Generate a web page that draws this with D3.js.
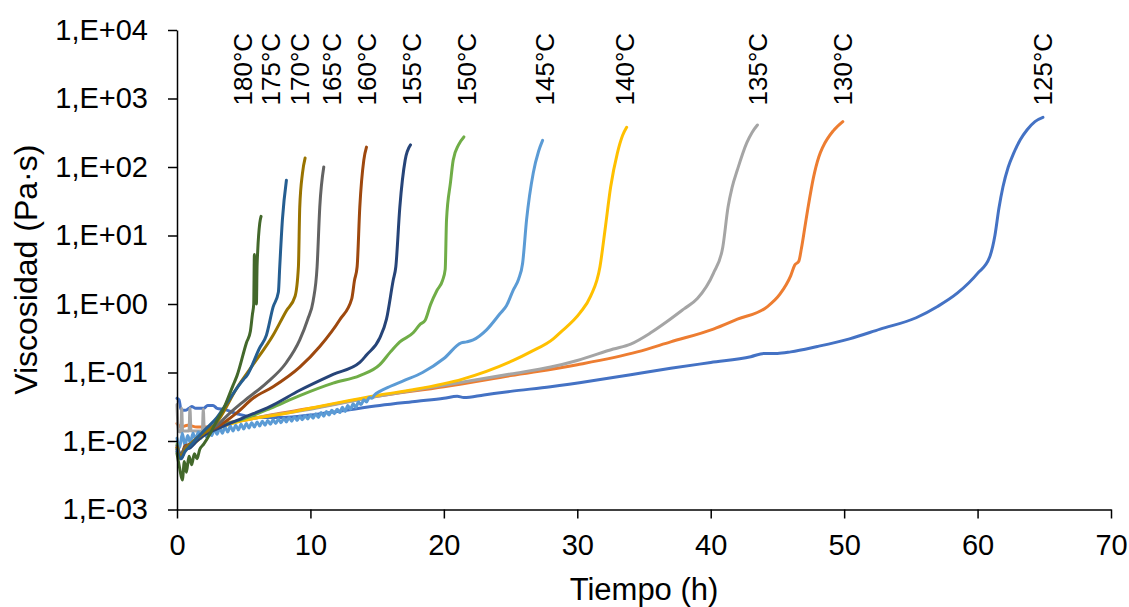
<!DOCTYPE html>
<html>
<head>
<meta charset="utf-8">
<script src="https://cdn.jsdelivr.net/npm/d3@7"></script>
<style>
  html, body { margin: 0; padding: 0; background: #fff; }
  svg { display: block; }
  text { font-family: "Liberation Sans", Arial, sans-serif; fill: #000; }
</style>
</head>
<body>
<svg id="chart" width="1129" height="607"></svg>
<script>
// Curing temperatures (°C) and where each label sits along the time axis (h)
const temperatures = [125, 130, 135, 140, 145, 150, 155, 160, 165, 170, 175, 180];
const labelHours   = [64.9, 49.9, 43.5, 33.6, 27.6, 21.7, 17.6, 14.2, 11.6, 9.2, 7.0, 4.95];

// Axis ticks
const xTicks = [0, 10, 20, 30, 40, 50, 60, 70];
const yTicks = [1e-3, 1e-2, 1e-1, 1e0, 1e1, 1e2, 1e3, 1e4];
const yTickLabels = ["1,E-03", "1,E-02", "1,E-01", "1,E+00", "1,E+01", "1,E+02", "1,E+03", "1,E+04"];

// Viscosity (Pa·s) versus time (h), one array per temperature
const visc125 = [[0,0.042],[0.15,0.04],[0.3,0.029],[0.6,0.028],[0.9,0.03],[1.1,0.032],[1.4,0.03],[2.0,0.03],[2.3,0.033],[2.7,0.033],[3.0,0.03],[3.5,0.029],[4.5,0.025],[6,0.022],[8,0.022],[10,0.024],[12,0.027],[15.2,0.033],[18,0.038],[20,0.042],[21,0.045],[21.5,0.043],[23,0.047],[25,0.053],[28,0.062],[31,0.075],[34,0.093],[37,0.115],[40,0.14],[43,0.17],[44,0.19],[45,0.19],[46,0.2],[48,0.24],[50.4,0.31],[52.7,0.43],[55.4,0.63],[57,0.92],[58.5,1.45],[60,2.8],[60.9,4.8],[61.3,10],[61.6,25],[61.9,51],[62.3,100],[62.7,158],[63.2,250],[63.7,347],[64.3,460],[64.9,530]];
const visc130 = [[0,0.018],[0.3,0.016],[0.8,0.017],[1.5,0.016],[2.5,0.016],[3.5,0.018],[5,0.02],[7,0.024],[10,0.03],[15,0.045],[20,0.062],[25,0.09],[30,0.13],[34.5,0.2],[37,0.28],[40.2,0.43],[42,0.6],[44.2,0.9],[45.2,1.4],[46,2.6],[46.3,3.7],[46.6,4.2],[46.8,6.5],[47.1,15],[47.3,26],[47.7,70],[48.1,140],[48.4,195],[49.2,340],[49.9,460]];
const visc135 = [[0,0.034],[0.1,0.014],[0.3,0.0135],[0.35,0.03],[0.42,0.014],[0.9,0.014],[0.97,0.03],[1.05,0.014],[1.9,0.014],[1.97,0.029],[2.05,0.014],[3,0.016],[5,0.02],[10,0.029],[15,0.045],[20,0.065],[25,0.095],[28,0.12],[30,0.15],[32.7,0.22],[34,0.26],[35.5,0.38],[36.7,0.55],[38,0.85],[39,1.2],[40.2,2.8],[40.9,6.7],[41.3,26],[41.6,50],[42,91],[42.7,225],[43.1,320],[43.5,410]];
const visc140 = [[0,0.0075],[0.3,0.006],[0.6,0.008],[1,0.0085],[1.5,0.01],[2,0.012],[3,0.015],[5,0.02],[8,0.025],[10,0.03],[12,0.036],[15.2,0.047],[17.7,0.056],[21.4,0.08],[25.2,0.15],[26.5,0.2],[28.2,0.31],[28.7,0.38],[30.2,0.74],[31,1.3],[31.7,3.5],[32.1,13],[32.5,51],[33,158],[33.4,290],[33.7,380]];
const visc145 = [[0,0.011],[0.2,0.008],[0.4,0.013],[0.6,0.0085],[0.8,0.012],[1.0,0.0095],[1.2,0.013],[1.4,0.0105],[1.6,0.0135],[1.8,0.011],[2.0,0.014],[2.2,0.0115],[2.4,0.0145],[2.6,0.012],[2.8,0.015],[3.0,0.0125],[3.2,0.0155],[3.4,0.013],[3.6,0.016],[3.8,0.0135],[4.0,0.0165],[4.2,0.014],[4.4,0.017],[4.6,0.0145],[4.8,0.0175],[5.0,0.015],[5.2,0.018],[5.4,0.0155],[5.6,0.0185],[5.8,0.016],[6.0,0.019],[6.2,0.0165],[6.4,0.0195],[6.6,0.017],[6.8,0.02],[7.0,0.0175],[7.2,0.0205],[7.4,0.018],[7.6,0.021],[7.8,0.0185],[8.0,0.0215],[8.2,0.019],[8.4,0.022],[8.6,0.0195],[8.8,0.0225],[9.0,0.02],[9.2,0.023],[9.4,0.0205],[9.6,0.0235],[9.8,0.021],[10.0,0.024],[10.2,0.0215],[10.4,0.025],[10.6,0.022],[10.8,0.026],[11.0,0.023],[11.2,0.027],[11.4,0.024],[11.6,0.028],[11.8,0.025],[12.0,0.029],[12.2,0.026],[12.4,0.031],[12.6,0.027],[12.8,0.033],[13.0,0.029],[13.2,0.035],[13.4,0.031],[13.6,0.037],[13.8,0.034],[14.0,0.04],[14.2,0.037],[14.4,0.043],[14.6,0.042],[14.8,0.047],[15.2,0.053],[16,0.063],[17,0.076],[18.4,0.1],[20,0.16],[21.3,0.27],[21.7,0.28],[22.2,0.3],[23.2,0.42],[24.2,0.72],[24.7,0.95],[25.2,1.6],[25.6,2.3],[25.9,3.9],[26.2,17],[26.7,82],[27.1,170],[27.4,245]];
const visc150 = [[0,0.009],[0.3,0.006],[0.6,0.008],[1,0.0085],[1.5,0.011],[2,0.013],[3,0.016],[5,0.021],[7,0.03],[9.2,0.046],[11.7,0.07],[13.7,0.09],[15.2,0.13],[16,0.2],[16.7,0.28],[17.7,0.38],[18.2,0.5],[18.6,0.58],[19,0.98],[19.5,1.6],[19.9,2.2],[20.1,3.2],[20.2,17],[20.5,60],[20.7,126],[21.1,210],[21.5,275]];
const visc155 = [[0,0.007],[0.3,0.0055],[0.6,0.0075],[1,0.008],[1.5,0.01],[2,0.012],[3,0.015],[5,0.022],[7,0.032],[9.2,0.055],[11.7,0.094],[13.7,0.14],[14.2,0.18],[15.2,0.32],[15.7,0.6],[16.2,2.2],[16.4,3.5],[16.7,26],[17.1,126],[17.5,210]];
const visc160 = [[0,0.008],[0.3,0.006],[0.6,0.0085],[1,0.009],[1.5,0.011],[2,0.013],[3,0.016],[4.5,0.026],[5.7,0.042],[7.2,0.062],[9.2,0.12],[10.7,0.24],[12.2,0.59],[13.1,1.2],[13.3,2.2],[13.5,3.5],[13.7,26],[14,126],[14.2,195]];
const visc165 = [[0,0.0085],[0.3,0.0065],[0.6,0.008],[1,0.009],[1.5,0.011],[2,0.013],[3,0.017],[4,0.026],[5,0.038],[6.7,0.07],[8.2,0.14],[9.2,0.3],[9.8,0.6],[10.2,1.1],[10.5,3.5],[10.7,26],[11,100]];
const visc170 = [[0,0.008],[0.3,0.006],[0.6,0.0075],[1,0.009],[1.5,0.011],[2,0.013],[3,0.019],[4.5,0.06],[5.7,0.13],[7.2,0.35],[8.2,0.8],[8.85,1.3],[9.1,3.5],[9.2,26],[9.4,80],[9.6,135]];
const visc175 = [[0,0.0075],[0.3,0.0055],[0.6,0.007],[1,0.0085],[1.5,0.011],[2,0.014],[3,0.022],[3.7,0.035],[5,0.08],[5.2,0.088],[6.2,0.23],[6.7,0.35],[7.2,0.9],[7.6,1.5],[7.7,3.5],[7.9,17],[8.2,64]];
const visc180 = [[0,0.0066],[0.2,0.004],[0.4,0.0027],[0.55,0.005],[0.7,0.0035],[0.9,0.006],[1.1,0.0045],[1.3,0.0065],[1.5,0.0055],[1.7,0.0075],[2,0.009],[2.5,0.013],[3,0.02],[3.5,0.03],[4.2,0.065],[4.5,0.09],[5.2,0.27],[5.5,0.4],[5.65,0.7],[5.75,1.0],[5.8,5.3],[5.85,1.2],[5.9,4.8],[5.95,1.0],[6.0,3.5],[6.05,6],[6.2,15],[6.3,19]];

const seriesData = [visc125, visc130, visc135, visc140, visc145, visc150, visc155, visc160, visc165, visc170, visc175, visc180];
const palette = ["#4472C4", "#ED7D31", "#A5A5A5", "#FFC000", "#5B9BD5", "#70AD47",
                 "#264478", "#9E480E", "#636363", "#997300", "#255E91", "#43682B"];

const svg = d3.select("#chart");
const plot = { left: 177, right: 1111, top: 30, bottom: 509.5 };

const x = d3.scaleLinear().domain([0, 70]).range([plot.left, plot.right]);
const y = d3.scaleLog().domain([1e-3, 1e4]).range([plot.bottom, plot.top]);

// Curves
const line = d3.line()
  .x(d => x(d[0]))
  .y(d => y(d[1]))
  .curve(d3.curveMonotoneX);

svg.append("g")
  .selectAll("path")
  .data(seriesData)
  .join("path")
  .attr("d", line)
  .attr("fill", "none")
  .attr("stroke", (d, i) => palette[i])
  .attr("stroke-width", 3)
  .attr("stroke-linejoin", "round")
  .attr("stroke-linecap", "round");

// Axes
const xAxis = svg.append("g")
  .attr("transform", `translate(0,${plot.bottom})`)
  .call(d3.axisBottom(x).tickValues(xTicks).tickSize(9).tickPadding(16).tickSizeOuter(0));
const yAxis = svg.append("g")
  .attr("transform", `translate(${plot.left},0)`)
  .call(d3.axisLeft(y).tickValues(yTicks).tickSize(9).tickPadding(20).tickSizeOuter(0)
    .tickFormat((d, i) => yTickLabels[i]));

[xAxis, yAxis].forEach(g => {
  g.select(".domain").attr("stroke", "#000").attr("stroke-width", 1.5);
  g.selectAll(".tick line").attr("stroke", "#000").attr("stroke-width", 1.5);
  g.selectAll(".tick text").attr("font-size", 29).attr("fill", "#000")
    .attr("font-family", '"Liberation Sans", Arial, sans-serif');
});

// Axis titles
svg.append("text")
  .attr("x", (plot.left + plot.right) / 2)
  .attr("y", 600)
  .attr("text-anchor", "middle")
  .attr("font-size", 31)
  .text("Tiempo (h)");

svg.append("text")
  .attr("transform", `translate(37,${(plot.top + plot.bottom) / 2}) rotate(-90)`)
  .attr("text-anchor", "middle")
  .attr("font-size", 32)
  .text("Viscosidad (Pa·s)");

// Temperature labels at the top of each curve
svg.append("g")
  .selectAll("text")
  .data(temperatures)
  .join("text")
  .attr("transform", (d, i) => `translate(${x(labelHours[i])},${y(1e3) + 7}) rotate(-90)`)
  .attr("dy", "0.35em")
  .attr("text-anchor", "start")
  .attr("font-size", 26)
  .text(d => `${d}°C`);
</script>
</body>
</html>
